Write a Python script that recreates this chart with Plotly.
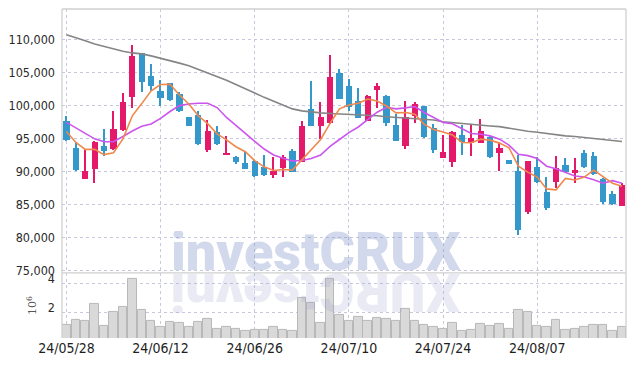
import plotly.graph_objects as go

dates = ["24/05/28", "24/05/29", "24/05/30", "24/05/31", "24/06/03", "24/06/04", "24/06/05", "24/06/07",
         "24/06/10", "24/06/11", "24/06/12", "24/06/13", "24/06/14", "24/06/17", "24/06/18", "24/06/19",
         "24/06/20", "24/06/21", "24/06/24", "24/06/25", "24/06/26", "24/06/27", "24/06/28", "24/07/01",
         "24/07/02", "24/07/03", "24/07/04", "24/07/05", "24/07/08", "24/07/09", "24/07/10", "24/07/11",
         "24/07/12", "24/07/15", "24/07/16", "24/07/17", "24/07/18", "24/07/19", "24/07/22", "24/07/23",
         "24/07/24", "24/07/25", "24/07/26", "24/07/29", "24/07/30", "24/07/31", "24/08/01", "24/08/02",
         "24/08/05", "24/08/06", "24/08/07", "24/08/08", "24/08/09", "24/08/12", "24/08/13", "24/08/14",
         "24/08/16", "24/08/19", "24/08/20", "24/08/21"]

opens = [97700, 93600, 88900, 90400, 93900, 93350, 96300, 101350, 108000, 104500,
         102150, 103400, 101800, 98250, 98600, 93250, 95950, 92500, 92250, 91300,
         91650, 90700, 89450, 90450, 93100, 91500, 99450, 96950, 97300, 104950,
         103000, 100700, 97700, 102300, 101500, 97050, 93900, 98450, 99950, 96600,
         92100, 91500, 95550, 94300, 94350, 95200, 92850, 91750, 90050, 83850,
         90700, 86900, 88450, 90950, 89900, 92750, 92350, 88800, 86550, 84800]
highs = [98450, 94500, 93350, 94550, 96400, 99200, 101900, 109200, 108050, 106300,
         103900, 103450, 102000, 98300, 99250, 97800, 96900, 95450, 92350, 93000,
         91700, 92500, 92250, 92500, 93350, 97700, 103750, 100600, 107700, 105550,
         104000, 102650, 101600, 103500, 101550, 98750, 100700, 100600, 100000, 97200,
         95550, 96200, 97050, 97050, 97950, 95400, 94500, 91800, 92500, 91650,
         92150, 89200, 92350, 92000, 92000, 93250, 93000, 88950, 87000, 88200]
lows = [94600, 90100, 88850, 88300, 92350, 93300, 96200, 99600, 102000, 102250,
        99950, 100700, 99100, 96850, 94000, 93000, 94000, 92450, 91150, 90300,
        89100, 89350, 89000, 89200, 89900, 91400, 96900, 94950, 97200, 100950,
        99200, 98100, 97650, 99600, 96950, 94550, 93350, 97300, 95050, 92850,
        92000, 90600, 92500, 92350, 94300, 92100, 90100, 91100, 80350, 83600,
        88250, 84150, 87450, 89900, 88300, 90450, 89450, 85050, 84950, 84750]
closes = [94700, 90200, 90050, 94500, 93150, 96450, 100550, 107550, 103650, 103050,
          101200, 100850, 99250, 96900, 94100, 96150, 94100, 92850, 91450, 90400,
          89350, 89500, 90050, 92150, 89950, 96900, 96950, 98250, 104400, 101000,
          99850, 98150, 101500, 103000, 97300, 94650, 98250, 100250, 95300, 93250,
          93000, 95950, 94450, 95050, 96150, 92250, 93500, 91150, 81050, 91600,
          88450, 84400, 90450, 89950, 90200, 90700, 89600, 85400, 85050, 87900]

ma5 = [96050, 94400, 93350, 93350, 92550, 92850, 94950, 98450, 100300, 102250,
       103200, 103250, 101600, 100250, 98450, 97250, 95700, 94800, 93750, 93000,
       91650, 90700, 90150, 90300, 90200, 91700, 93200, 94850, 97300, 99500,
       100100, 100350, 101000, 100700, 99950, 98900, 98950, 98700, 97150, 96350,
       96000, 95550, 94400, 94350, 94900, 94750, 94300, 93600, 90800, 89900,
       89150, 87350, 87200, 88950, 88700, 89150, 90200, 89150, 88200, 87750]
ma10 = [97450, 96600, 95800, 94950, 94500, 94500, 95300, 96150, 96850, 97200,
        98050, 99100, 100000, 100250, 100350, 100350, 99700, 98200, 97000, 95700,
        94550, 93400, 92500, 92000, 91600, 91650, 91950, 92500, 93800, 94850,
        95900, 96750, 97900, 99000, 99750, 99500, 99650, 99850, 98950, 98150,
        97450, 97250, 96550, 95750, 95650, 95400, 94900, 94000, 92600, 92400,
        91950, 90800, 90400, 89900, 89300, 89150, 88750, 88200, 88600, 88200]
ma_long = [110750, 110350, 109850, 109350, 108950, 108600, 108250, 108000, 107850, 107550,
           107200, 106900, 106450, 106050, 105500, 105000, 104450, 103850, 103200, 102500,
           101900, 101250, 100700, 100100, 99500, 99200, 99000, 98900, 98800, 98750,
           98650, 98600, 98500, 98450, 98300, 98200, 98100, 98000, 97950, 97800,
           97550, 97400, 97300, 97150, 97050, 96900, 96800, 96550, 96250, 96100,
           95950, 95750, 95600, 95400, 95300, 95150, 95000, 94850, 94700, 94550]

volume_m = [1.12, 1.52, 1.40, 2.62, 1.10, 2.07, 2.41, 4.34, 2.21, 1.45,
            1.03, 1.38, 1.31, 1.03, 1.38, 1.59, 0.90, 1.03, 0.90, 0.76,
            0.83, 0.83, 1.03, 0.83, 0.76, 3.03, 2.69, 1.31, 4.34, 1.81,
            1.40, 1.72, 1.40, 1.66, 1.59, 1.40, 2.28, 1.40, 1.12, 1.03,
            0.85, 1.31, 0.76, 0.83, 1.24, 1.10, 1.24, 0.90, 2.21, 2.07,
            1.10, 1.03, 1.52, 0.83, 0.90, 1.03, 1.17, 1.17, 0.76, 1.03]

price_ticks = [75000, 80000, 85000, 90000, 95000, 100000, 105000, 110000]
volume_ticks = [2, 4]
date_ticks = ["24/05/28", "24/06/12", "24/06/26", "24/07/10", "24/07/24", "24/08/07"]

UP = "#e5196a"
DOWN = "#3498ca"
GRID = "#c6c9de"
FRAME = "#cfcfcf"
TICKFONT = "DejaVu Sans Condensed, Liberation Sans Narrow, sans-serif"

up_idx = [i for i in range(len(dates)) if closes[i] >= opens[i]]
dn_idx = [i for i in range(len(dates)) if closes[i] < opens[i]]

fig = go.Figure()

# volume bars
fig.add_trace(go.Bar(x=dates, y=volume_m, xaxis="x2", yaxis="y2", width=0.9,
                     marker=dict(color="#d9d9d9", line=dict(color="#b8b8b8", width=1)),
                     showlegend=False, hoverinfo="skip"))

# wicks
for idx, col in ((up_idx, UP), (dn_idx, DOWN)):
    fig.add_trace(go.Bar(x=[dates[i] for i in idx],
                         base=[lows[i] for i in idx],
                         y=[highs[i] - lows[i] for i in idx],
                         width=0.16, marker=dict(color=col, line=dict(width=0)),
                         xaxis="x", yaxis="y", showlegend=False, hoverinfo="skip"))
# bodies
for idx, col in ((up_idx, UP), (dn_idx, DOWN)):
    fig.add_trace(go.Bar(x=[dates[i] for i in idx],
                         base=[min(opens[i], closes[i]) for i in idx],
                         y=[max(abs(closes[i] - opens[i]), 250) for i in idx],
                         width=0.66, marker=dict(color=col, line=dict(width=0)),
                         xaxis="x", yaxis="y", showlegend=False, hoverinfo="skip"))

for series, col in ((ma_long, "#858585"), (ma10, "#cc55ee"), (ma5, "#f0884c")):
    fig.add_trace(go.Scatter(x=dates, y=series, mode="lines", xaxis="x", yaxis="y",
                             line=dict(color=col, width=1.6), showlegend=False, hoverinfo="skip"))

SPLIT = 0.1979
xr = [-0.47, 59.43]
common_x = dict(type="category", range=xr, showgrid=True, gridcolor=GRID, griddash="dot",
                gridwidth=1, tickvals=date_ticks, ticktext=date_ticks, zeroline=False,
                showline=False, ticks="", automargin=False)

fig.update_layout(
    width=635, height=366,
    margin=dict(l=54.3, r=16.5, t=1.3, b=36.3),
    paper_bgcolor="white", plot_bgcolor="white",
    barmode="overlay", bargap=0,
    xaxis=dict(**common_x, anchor="y", showticklabels=False, matches="x2"),
    xaxis2=dict(**common_x, anchor="y2", showticklabels=True,
                tickfont=dict(family=TICKFONT, size=14, color="#1e1e1e")),
    yaxis=dict(domain=[SPLIT, 1], range=[74590, 114670], tickvals=price_ticks,
               tickformat=",", showgrid=True, gridcolor=GRID, griddash="dot", zeroline=False,
               ticks="", ticklabelstandoff=6, automargin=False,
               tickfont=dict(family=TICKFONT, size=12.5, color="#2a2a2a")),
    yaxis2=dict(domain=[0, SPLIT], range=[0.25, 4.73], tickvals=volume_ticks,
                showgrid=True, gridcolor=GRID, griddash="dot", zeroline=False,
                ticks="", ticklabelstandoff=6, ticklabelshift=-5, automargin=False,
                tickfont=dict(family=TICKFONT, size=12.5, color="#2a2a2a"),
                title=dict(text="10<sup>6</sup>", standoff=8,
                           font=dict(family="DejaVu Serif, serif", size=11, color="#555555"))),
    showlegend=False,
)

# frame lines
for x0, y0, x1, y1 in ((0, 0, 0, 1), (0, 1, 1, 1), (1, 0, 1, 1), (0, SPLIT, 1, SPLIT)):
    fig.add_shape(type="line", xref="paper", yref="paper", x0=x0, y0=y0, x1=x1, y1=y1,
                  line=dict(color=FRAME, width=1.3), layer="above")

# watermark and its reflection (reversed string turned 180 degrees reads as a mirror image)
WM = "investCRUX"
WM_SIZE = 54
WM_CX = 0.4495
WM_FONT = "Roboto, Liberation Sans, Arial, sans-serif"
fig.add_annotation(text=WM, xref="paper", yref="paper", x=WM_CX, y=0.2644,
                   xanchor="center", yanchor="middle", showarrow=False,
                   height=40, borderpad=0,
                   font=dict(family=WM_FONT, size=WM_SIZE, weight=900,
                             color="rgba(120,140,200,0.33)"))
fig.add_annotation(text=WM[::-1], xref="paper", yref="paper", x=WM_CX, y=0.1368,
                   xanchor="center", yanchor="middle", showarrow=False,
                   textangle=180, height=40, borderpad=0,
                   font=dict(family=WM_FONT, size=WM_SIZE, weight=900,
                             color="rgba(150,150,205,0.2)"))

fig.write_html("out.html")
